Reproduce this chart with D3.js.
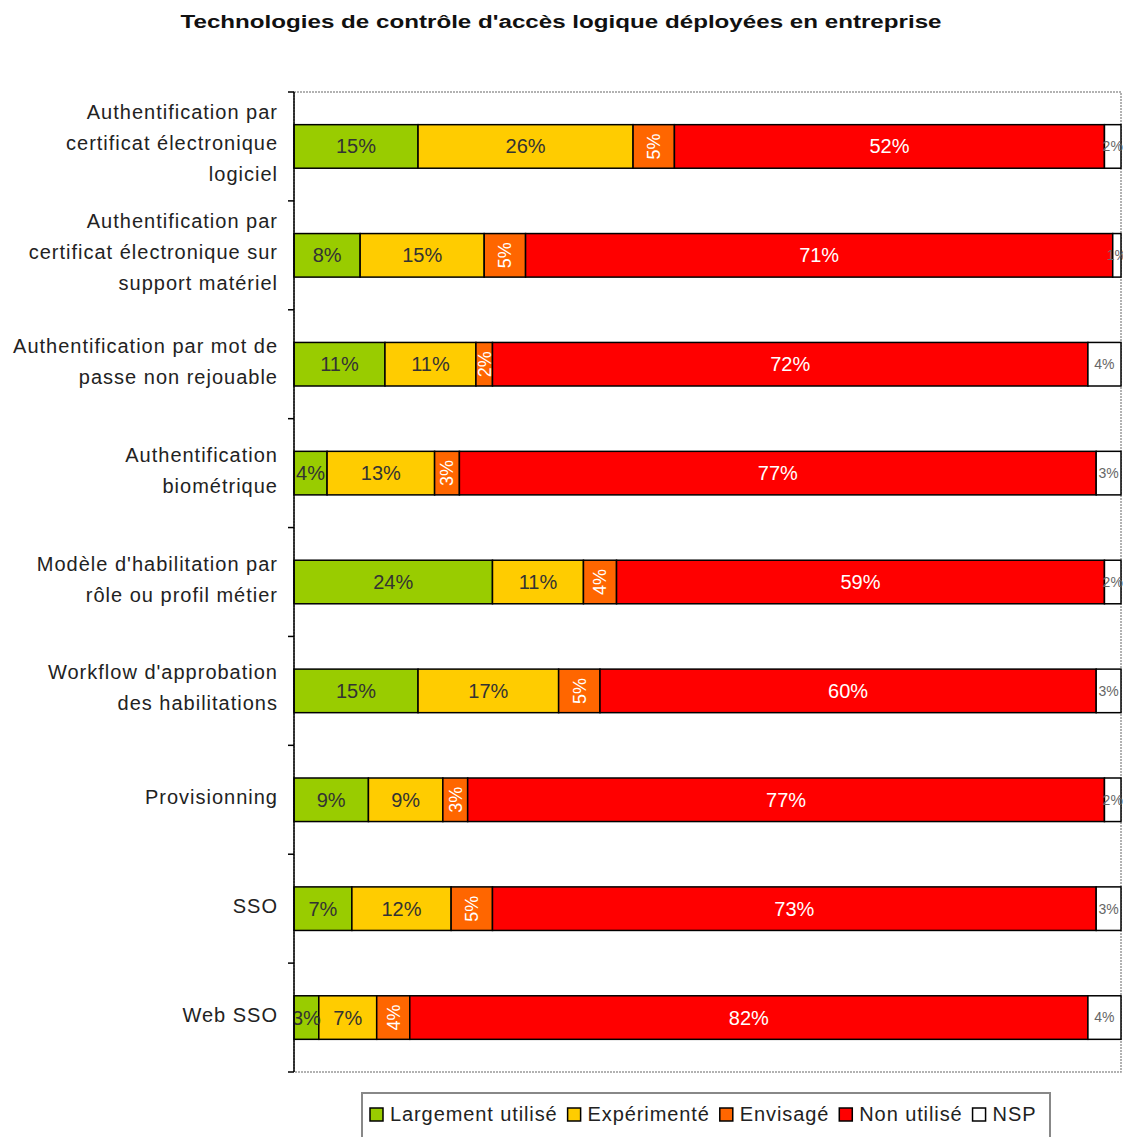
<!DOCTYPE html>
<html><head><meta charset="utf-8">
<script src="https://cdn.jsdelivr.net/npm/d3@7"></script>
<style>body{margin:0;background:#fff}svg{display:block;font-family:"Liberation Sans",Arial,sans-serif}</style>
</head><body><svg id="c" width="1123" height="1137"></svg>
<script>
const title = "Technologies de contrôle d'accès logique déployées en entreprise";
const categories = [
  ["Authentification par","certificat électronique","logiciel"],
  ["Authentification par","certificat électronique sur","support matériel"],
  ["Authentification par mot de","passe non rejouable"],
  ["Authentification","biométrique"],
  ["Modèle d'habilitation par","rôle ou profil métier"],
  ["Workflow  d'approbation","des habilitations"],
  ["Provisionning"],
  ["SSO"],
  ["Web SSO"]
];
const seriesNames = ["Largement utilisé","Expérimenté","Envisagé","Non utilisé","NSP"];
const largement   = [15, 8, 11, 4, 24, 15, 9, 7, 3];
const experimente = [26, 15, 11, 13, 11, 17, 9, 12, 7];
const envisage    = [5, 5, 2, 3, 4, 5, 3, 5, 4];
const nonUtilise  = [52, 71, 72, 77, 59, 60, 77, 73, 82];
const nsp         = [2, 1, 4, 3, 2, 3, 2, 3, 4];
const colors = ["#99cc00","#ffcc00","#ff6600","#ff0000","#ffffff"];

const values = [largement, experimente, envisage, nonUtilise, nsp];
const rows = categories.map((c,i)=>{const o={i}; seriesNames.forEach((s,k)=>o[s]=values[k][i]); return o;});
const stack = d3.stack().keys(seriesNames)(rows);

const svg = d3.select("#c");
const L=294, R=1121, T=92, B=1072;
const x = d3.scaleLinear().domain([0,100]).range([L,R]);
const y = d3.scaleBand().domain(d3.range(categories.length)).range([T,B]).paddingInner(0.6).paddingOuter(0.3);

svg.append("text").attr("x",561).attr("y",28).attr("text-anchor","middle")
  .attr("font-weight","bold").attr("font-size",18).attr("fill","#111")
  .attr("textLength",761).attr("lengthAdjust","spacingAndGlyphs").text(title);

// plot frame (dotted)
svg.append("rect").attr("x",L).attr("y",T).attr("width",R-L).attr("height",B-T)
  .attr("fill","none").attr("stroke","#999").attr("stroke-width",1.5).attr("stroke-dasharray","2,1");

svg.append("defs").append("clipPath").attr("id","pc").append("rect")
  .attr("x",L).attr("y",T).attr("width",1123-L).attr("height",B-T);

const g = svg.append("g");
stack.forEach((layer,k)=>{
  g.selectAll(null).data(layer).enter().append("rect")
    .attr("x",d=>x(d[0])).attr("width",d=>x(d[1])-x(d[0]))
    .attr("y",(d,i)=>y(i)).attr("height",y.bandwidth())
    .attr("fill",colors[k]).attr("stroke","#000").attr("stroke-width",1.5);
});

const lg = svg.append("g").attr("clip-path","url(#pc)");
stack.forEach((layer,k)=>{
  layer.forEach((d,i)=>{
    const v = values[k][i];
    const cx = (x(d[0])+x(d[1]))/2, cy = y(i)+y.bandwidth()/2;
    const t = lg.append("text").text(v+"%").attr("text-anchor","middle");
    if(k===2){
      t.attr("transform",`translate(${cx},${cy}) rotate(-90)`).attr("dy","0.35em")
       .attr("font-size",18).attr("fill","#fff");
    } else if(k===4){
      t.attr("x",cx).attr("y",cy).attr("dy","0.35em").attr("font-size",14).attr("fill","#666");
    } else {
      t.attr("x",cx).attr("y",cy).attr("dy","0.35em").attr("font-size",20)
       .attr("fill",k===3?"#fff":"#333");
    }
  });
});

// left axis
svg.append("line").attr("x1",L).attr("x2",L).attr("y1",T).attr("y2",B).attr("stroke","#000").attr("stroke-width",1.5);
d3.range(categories.length+1).forEach(i=>{
  const yy = T + i*y.step();
  svg.append("line").attr("x1",L-6).attr("x2",L).attr("y1",yy).attr("y2",yy).attr("stroke","#000").attr("stroke-width",1.5);
});

// category labels
categories.forEach((lines,i)=>{
  const cy = y(i)+y.bandwidth()/2 - 3;
  const lh = 31;
  const t = svg.append("text").attr("text-anchor","end").attr("font-size",20).attr("fill","#222")
    .attr("letter-spacing","1px");
  lines.forEach((ln,j)=>{
    t.append("tspan").attr("x",278).attr("y",cy + (j-(lines.length-1)/2)*lh).attr("dy","0.35em").text(ln);
  });
});

// legend
const leg = svg.append("g");
leg.append("rect").attr("x",362).attr("y",1093).attr("width",688).attr("height",60)
  .attr("fill","#fff").attr("stroke","#888").attr("stroke-width",2);
let lx = 370;
seriesNames.forEach((s,k)=>{
  leg.append("rect").attr("x",lx).attr("y",1108).attr("width",13).attr("height",13)
    .attr("fill",colors[k]).attr("stroke","#000").attr("stroke-width",1.5);
  const t = leg.append("text").attr("x",lx+20).attr("y",1121).attr("font-size",20).attr("fill","#222")
    .attr("letter-spacing","0.9px").text(s);
  lx += 20 + t.node().getComputedTextLength() + 10;
});
</script></body></html>
